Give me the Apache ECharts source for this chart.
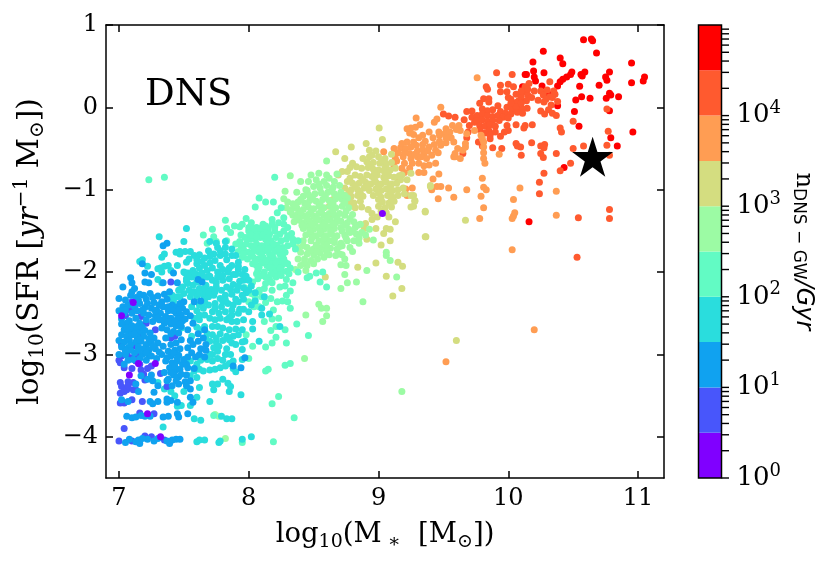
<!DOCTYPE html>
<html>
<head>
<meta charset="utf-8">
<style>html,body{margin:0;padding:0;background:#fff}#chart{width:831px;height:567px}</style>
<script src="https://cdn.jsdelivr.net/npm/echarts@6/dist/echarts.min.js"></script>
</head>
<body>
<div id="chart"></div>
<script>
// Host galaxies of double neutron star mergers, grouped by merger-rate decade bin.
const binColors = ['#8000ff','#4856fb','#10a2f0','#2adddd','#62fbc4','#9cfba4','#d4dd80','#ff9d53','#ff5a2f','#ff0000'];
const binEdges = [1,3.162,10,31.62,100,316.2,1000,3162,10000,31620,100000];
const milkyWay = [[10.65,-0.6]];

const bin0 = [[7.02,-2.53],[7.32,-4.0],[7.22,-3.72],[7.08,-3.25],[7.15,-3.11],[7.28,-3.11],[9.03,-1.29],[7.11,-2.37]];
const bin1 = [[7.40,-2.12],[7.10,-2.36],[7.09,-2.46],[7.17,-2.54],[7.21,-2.62],[7.28,-2.70],[7.43,-2.78],[7.40,-2.80],[7.17,-2.76],[7.11,-2.90],[7.05,-2.94],[7.06,-3.00],[7.01,-3.10],[7.00,-3.07],[7.09,-3.04],[7.14,-3.00],[7.17,-3.19],[7.22,-3.17],[7.25,-3.14],[7.32,-3.23],[7.10,-3.17],[7.11,-3.34],[7.07,-3.33],[7.01,-3.34],[7.02,-3.39],[7.01,-3.47],[7.04,-3.45],[7.06,-3.43],[7.11,-3.43],[7.13,-3.43],[7.20,-3.31],[7.37,-3.39],[7.04,-3.59],[7.01,-3.59],[7.10,-3.55],[7.18,-3.57],[7.16,-3.71],[7.27,-3.72],[7.04,-3.90],[7.00,-4.05],[7.10,-4.05],[7.20,-3.99],[7.25,-4.0],[7.35,-4.04],[7.05,-2.53],[7.02,-2.88],[7.13,-3.08],[7.16,-3.12],[7.19,-3.24],[7.02,-3.02],[7.07,-3.38],[7.04,-3.16]];
const bin2 = [[7.37,-1.65],[7.34,-1.68],[7.18,-1.9],[7.20,-2.01],[7.25,-2.03],[7.09,-2.07],[7.10,-2.13],[7.03,-2.18],[7.20,-2.12],[7.23,-2.13],[7.34,-2.13],[7.42,-2.01],[7.45,-2.13],[7.61,-2.09],[7.64,-2.12],[7.00,-2.32],[7.10,-2.24],[7.19,-2.28],[7.24,-2.26],[7.30,-2.29],
[7.09,-2.28],[7.13,-2.31],[7.16,-2.27],[7.21,-2.33],[7.27,-2.37],[7.33,-2.36],[7.37,-2.33],[7.41,-2.40],[7.45,-2.42],[7.49,-2.44],[7.03,-2.42],[7.07,-2.40],[7.12,-2.42],[7.16,-2.38],[7.20,-2.43],[7.25,-2.44],[7.29,-2.46],[7.34,-2.42],[7.38,-2.47],[7.44,-2.50],[7.48,-2.52],[7.52,-2.48],[7.00,-2.47],[7.04,-2.50],[7.10,-2.50],[7.14,-2.47],[7.19,-2.50],[7.23,-2.52],[7.28,-2.53],[7.32,-2.50],[7.36,-2.54],[7.40,-2.56],[7.45,-2.57],[7.49,-2.59],[7.02,-2.57],[7.08,-2.59],[7.13,-2.56],[7.21,-2.58],[7.26,-2.60],[7.31,-2.58],[7.35,-2.62],[7.40,-2.63],[7.44,-2.65],[7.48,-2.66],[7.33,-2.68],[7.37,-2.70],[7.42,-2.72],[7.53,-2.70],[7.50,-2.36],[7.55,-2.53],
[7.04,-2.70],[7.08,-2.72],[7.12,-2.70],[7.16,-2.72],[7.20,-2.71],[7.24,-2.74],[7.02,-2.76],[7.06,-2.78],[7.10,-2.76],[7.14,-2.79],[7.19,-2.78],[7.23,-2.81],[7.27,-2.80],[7.00,-2.83],[7.04,-2.85],[7.08,-2.83],[7.13,-2.85],[7.17,-2.84],[7.21,-2.88],[7.25,-2.86],[7.30,-2.86],[7.02,-2.91],[7.07,-2.92],[7.15,-2.91],[7.19,-2.93],[7.23,-2.95],[7.28,-2.93],[7.05,-3.0],[7.12,-2.98],[7.18,-3.0],[7.23,-3.02],[7.00,-3.0],[7.11,-3.06],[7.16,-3.05],[7.07,-3.07],[7.21,-3.07],[7.04,-3.12],
[7.36,-2.80],[7.40,-2.88],[7.44,-2.86],[7.48,-2.82],[7.34,-2.90],[7.38,-2.96],[7.43,-2.95],[7.47,-2.93],[7.33,-3.0],[7.40,-3.02],[7.46,-3.01],[7.53,-2.92],[7.55,-2.83],[7.61,-2.84],[7.65,-2.80],[7.67,-2.88],[7.63,-2.93],[7.67,-2.95],[7.56,-2.98],[7.53,-3.03],[7.36,-3.08],[7.41,-3.10],[7.45,-3.08],[7.39,-3.16],[7.43,-3.20],[7.47,-3.18],[7.35,-3.22],[7.42,-3.25],[7.46,-3.27],[7.52,-3.25],[7.44,-3.32],[7.51,-3.33],[7.55,-3.32],[7.58,-3.17],[7.53,-3.16],[7.94,-3.16],[7.88,-3.14],[7.97,-3.04],
[7.26,-3.32],[7.30,-3.38],[7.27,-3.46],[7.17,-3.26],[7.22,-3.30],[7.25,-3.25],[7.52,-3.38],[7.55,-3.42],[7.13,-3.36],[7.15,-3.45],[7.02,-3.55],[7.07,-3.57],[7.24,-3.57],[7.26,-3.60],[7.30,-3.57],[7.37,-3.58],[7.37,-3.54],[7.40,-3.56],[7.45,-3.58],[7.55,-3.52],[7.57,-3.58],[7.53,-3.72],[7.06,-3.75],[7.10,-3.77],[7.13,-3.76],[7.17,-3.74],[7.20,-3.75],[7.24,-3.75],[7.34,-3.76],[7.38,-3.75],[7.45,-3.72],[7.46,-3.76],[7.05,-4.07],[7.08,-4.03],[7.13,-4.06],[7.15,-4.04],[7.18,-4.02],[7.22,-4.03],[7.27,-4.05],[7.30,-4.02],[7.39,-4.08],[7.41,-4.04],[7.44,-4.03],[7.47,-4.03],[7.16,-4.08],[7.37,-4.05],
[7.28,-2.47],[7.16,-2.62],[7.31,-2.40],[7.06,-2.62],[7.46,-2.46],[7.63,-2.35],[7.58,-2.36],[7.57,-2.62],[7.61,-2.75],[7.15,-2.95],[7.09,-2.95],[7.40,-2.75],[7.46,-2.74],[7.43,-3.14],[7.49,-3.12],[7.38,-3.30],[7.52,-3.12],
[7.05,-2.34],[7.12,-2.2],[7.15,-2.34],[7.26,-2.31],[7.35,-2.27],[7.39,-2.24],[7.05,-2.46],[7.18,-2.46],[7.22,-2.38],[7.30,-2.55],[7.38,-2.42],[7.42,-2.47],[7.47,-2.38],[7.51,-2.57],[7.34,-2.58],[7.43,-2.6],[7.47,-2.63],[7.38,-2.6],[7.02,-2.63],[7.1,-2.65],[7.14,-2.66],[7.06,-2.68],[7.18,-2.67],[7.12,-2.75],[7.16,-2.82],[7.09,-2.88],[7.05,-2.96],[7.21,-2.98],[7.26,-2.9],[7.25,-3.02],[7.31,-2.97],[7.29,-3.05],[7.42,-2.98],[7.37,-3.04],[7.45,-3.04],[7.5,-3.06],[7.4,-3.22],[7.48,-3.24],[7.46,-3.36],[7.41,-3.38],[7.37,-3.32],[7.62,-3.0],[7.57,-2.88],[7.59,-3.03],[7.66,-3.03],[7.66,-2.7]];
const bin3 = [[7.31,-1.57],[7.22,-1.93],[7.18,-1.85],[7.52,-1.47],[7.35,-1.78],[7.33,-1.82],[7.44,-1.76],[7.47,-1.78],[7.38,-1.92],[7.40,-1.98],[7.30,-1.96],[7.33,-2.0],[7.45,-1.92],[7.52,-1.88],[7.54,-1.84],[7.58,-1.80],[7.50,-2.0],[7.60,-1.90],
[7.53,-2.01],[7.57,-1.98],[7.62,-1.95],[7.66,-1.92],[7.70,-1.89],[7.74,-1.86],[7.78,-1.92],[7.82,-1.70],[7.69,-1.74],[7.73,-1.78],[7.78,-1.80],[7.83,-1.85],[7.52,-2.08],[7.56,-2.06],[7.60,-2.03],[7.64,-2.01],[7.68,-1.98],[7.72,-1.95],[7.76,-2.0],[7.80,-1.97],[7.84,-2.0],[7.46,-2.22],[7.49,-2.18],[7.53,-2.14],[7.57,-2.16],[7.68,-2.06],[7.72,-2.10],[7.76,-2.06],[7.80,-2.10],[7.85,-2.08],[7.41,-2.28],[7.45,-2.30],[7.50,-2.26],[7.54,-2.22],[7.58,-2.24],[7.62,-2.20],[7.67,-2.16],[7.71,-2.21],[7.75,-2.18],[7.79,-2.22],[7.83,-2.18],[7.88,-2.15],[7.55,-2.30],[7.60,-2.30],[7.65,-2.27],[7.69,-2.30],[7.73,-2.28],[7.78,-2.32],[7.82,-2.28],[7.87,-2.27],[7.91,-2.22],
[7.69,-2.40],[7.74,-2.38],[7.79,-2.42],[7.84,-2.38],[7.88,-2.40],[7.92,-2.36],[7.96,-2.33],[7.98,-2.25],[7.56,-2.42],[7.60,-2.47],[7.65,-2.44],[7.72,-2.48],[7.77,-2.50],[7.82,-2.48],[7.87,-2.52],[7.92,-2.50],[7.96,-2.45],[8.02,-2.40],[8.05,-2.35],[7.58,-2.56],[7.62,-2.58],[7.66,-2.52],[7.70,-2.56],[7.74,-2.58],[7.78,-2.56],[7.83,-2.58],[7.87,-2.60],[7.91,-2.60],[7.96,-2.58],[8.0,-2.48],[7.60,-2.67],[7.63,-2.70],[7.66,-2.66],[7.72,-2.66],[7.76,-2.66],[7.80,-2.68],[7.85,-2.70],[7.90,-2.69],[7.95,-2.70],[8.03,-2.6],[8.03,-2.69],[7.68,-2.75],[7.72,-2.76],[7.78,-2.75],[7.83,-2.78],[7.88,-2.78],[7.92,-2.76],[7.97,-2.84],[7.70,-2.84],[7.75,-2.85],[7.80,-2.83],[7.87,-2.86],[7.73,-2.92],[7.77,-2.90],[7.83,-2.93],[7.90,-2.88],[7.72,-3.0],[7.82,-3.0],[7.86,-3.0],[8.08,-2.84],[7.95,-3.06],[7.95,-2.94],
[7.55,-3.08],[7.60,-3.12],[7.63,-3.07],[7.68,-3.06],[7.72,-3.08],[7.76,-3.05],[7.80,-3.07],[7.85,-3.11],[7.88,-3.08],[7.58,-3.20],[7.62,-3.18],[7.65,-3.20],[7.70,-3.19],[7.74,-3.18],[7.78,-3.16],[7.82,-3.14],[7.88,-3.17],[7.9,-3.21],[7.60,-3.28],[7.55,-3.26],[7.76,-3.36],[7.80,-3.30],[7.84,-3.35],[7.86,-3.39],[7.85,-3.45],[7.72,-3.36],[7.73,-3.43],[7.60,-3.52],[7.62,-3.40],[7.70,-3.57],[7.94,-3.49],[7.48,-3.62],[7.55,-3.62],[7.40,-3.45],[7.43,-3.50],[7.58,-3.78],[7.63,-3.80],[7.79,-3.75],[7.83,-3.78],[7.87,-3.78],[7.60,-4.06],[7.62,-4.04],[7.66,-4.04],[7.77,-4.07],[7.78,-4.05],[7.95,-4.03],[8.02,-4.0],[7.34,-3.88],[7.45,-3.63],
[7.82,-1.63],[7.76,-1.70],[7.87,-1.72],[7.90,-1.80],[7.92,-1.88],[7.87,-1.92],[7.92,-1.97],[7.95,-2.03],[7.90,-2.03],[7.96,-2.10],[7.93,-2.11],[8.02,-2.17],[8.0,-2.22],[8.05,-2.25],[7.45,-2.63],[7.42,-2.35],[7.48,-2.68],[7.56,-2.78],[7.30,-3.34],[7.35,-3.42],[7.50,-3.45],
[7.5,-1.63],[7.51,-1.75],[7.47,-1.75],[7.55,-1.75],[7.62,-1.79],[7.66,-1.83],[7.70,-1.81],[7.6,-1.85],[7.64,-1.87],[7.75,-1.65],[7.7,-1.63],[7.32,-1.95],[7.35,-1.93],[7.16,-1.87],[7.3,-2.09],[7.33,-2.13],[7.38,-2.32],[7.47,-2.3],[7.51,-2.01],[7.55,-2.05],[7.58,-2.01],[7.52,-2.11],[7.47,-2.21],[7.56,-2.25],[7.65,-2.34],[7.7,-2.05],[7.75,-2.13],[7.6,-2.12],[7.64,-2.08],[7.66,-2.2],[7.69,-2.24],[7.62,-2.26],[7.74,-2.24],[7.66,-2.36],[7.62,-2.4],[7.62,-2.52],[7.74,-2.44],[7.8,-2.36],[7.85,-2.55],[7.93,-2.45],[7.87,-2.46],[7.75,-2.8],[7.85,-2.82],[7.67,-2.8],[7.7,-3.0],[7.76,-2.96],[7.95,-2.85],[7.85,-1.95],[7.8,-2.04],[7.88,-2.03],[7.78,-1.74],[7.82,-1.78],[7.87,-1.8],[7.92,-1.93],[7.97,-1.97],[7.98,-2.05],[8.0,-2.1],[7.92,-2.17],[7.96,-2.19],[7.86,-2.21],[7.82,-2.34],[7.9,-2.33],[7.95,-2.28],[8.1,-2.44],[8.1,-2.52],[8.16,-2.51],[8.12,-2.3],[8.24,-2.66]];
const bin4 = [[7.23,-0.88],[7.35,-0.85],[8.20,-0.85],[8.08,-1.10],[8.13,-1.15],[8.19,-1.15],[8.05,-1.21],[7.82,-1.37],[7.89,-1.44],[7.93,-1.45],[7.65,-1.55],[7.72,-1.48],[7.83,-1.47],[7.86,-1.52],[7.98,-1.35],[7.94,-1.55],[7.99,-1.58],[7.75,-1.63],[7.68,-1.65],[7.73,-1.57],[7.83,-1.62],
[8.02,-1.40],[8.06,-1.46],[8.11,-1.42],[8.15,-1.47],[8.22,-1.28],[8.18,-1.36],[8.23,-1.40],[8.25,-1.22],[8.27,-1.50],[8.0,-1.50],[8.04,-1.53],[8.08,-1.52],[8.12,-1.50],[8.16,-1.54],[8.20,-1.50],[8.24,-1.54],[7.97,-1.58],[8.01,-1.60],[8.05,-1.60],[8.09,-1.58],[8.13,-1.60],[8.17,-1.62],[8.21,-1.58],[8.25,-1.62],[8.29,-1.60],[7.93,-1.63],[7.90,-1.66],[7.94,-1.68],[7.98,-1.66],[8.02,-1.68],[8.06,-1.66],[8.10,-1.68],[8.14,-1.66],[8.18,-1.70],[8.22,-1.67],[8.26,-1.70],[8.30,-1.68],[8.34,-1.66],[7.92,-1.75],[7.96,-1.73],[8.0,-1.76],[8.04,-1.74],[8.08,-1.76],[8.12,-1.74],[8.16,-1.78],[8.20,-1.75],[8.24,-1.78],[8.28,-1.76],[8.38,-1.62],[8.36,-1.72],[7.95,-1.82],[7.99,-1.84],[8.03,-1.81],[8.07,-1.84],[8.11,-1.82],[8.15,-1.85],[8.19,-1.83],[8.23,-1.86],[8.27,-1.84],[8.03,-1.90],[8.06,-1.92],[8.10,-1.89],[8.14,-1.92],[8.18,-1.90],[8.22,-1.93],[8.26,-1.91],[8.30,-1.90],[8.07,-1.98],[8.12,-2.0],[8.18,-1.97],[8.21,-2.0],[8.25,-1.98],[8.29,-1.99],[8.38,-2.0],[8.45,-2.07],
[8.13,-2.06],[8.16,-2.09],[8.21,-2.06],[8.25,-2.04],[8.29,-2.09],[8.34,-2.13],[8.24,-2.18],[8.31,-2.02],[8.03,-2.12],[8.07,-2.08],[8.13,-2.14],[8.18,-2.13],[8.18,-2.22],[8.28,-2.17],[8.32,-2.23],[8.08,-2.24],[7.97,-2.19],[8.02,-2.26],[8.08,-2.22],[8.12,-2.20],[8.17,-2.32],[8.29,-2.28],[8.3,-2.36],[8.05,-2.31],[8.10,-2.30],[8.22,-2.36],[8.26,-2.35],[8.00,-2.36],[8.04,-2.42],[8.08,-2.42],[8.13,-2.37],[8.19,-2.46],[8.23,-2.56],[8.18,-2.57],[8.32,-2.44],[8.12,-2.6],[8.21,-2.66],[8.17,-2.71],[8.28,-2.7],[8.21,-2.79],[8.18,-2.86],[8.13,-2.91],[8.29,-2.86],[8.37,-2.63],[8.46,-2.77],[8.03,-2.9],[7.98,-2.76],[8.0,-3.05],[8.28,-3.13],[8.32,-3.11],[8.13,-3.2],[8.15,-3.18],[8.23,-3.51],[8.18,-3.6],[8.35,-3.77],[8.19,-4.06],[7.95,-4.07],[7.73,-3.74],
[7.95,-1.42],[8.0,-1.46],[8.04,-1.47],[8.09,-1.47],[8.13,-1.44],[8.18,-1.42],[8.2,-1.46],[8.27,-1.42],[8.27,-1.34],[8.3,-1.46],[8.33,-1.53],[8.3,-1.56],[8.34,-1.6],[8.02,-1.55],[8.06,-1.57],[8.11,-1.55],[8.15,-1.58],[8.19,-1.66],[8.12,-1.71],[8.04,-1.7],[7.96,-1.78],[8.08,-1.72],[8.15,-1.72],[8.23,-1.72],[8.02,-1.79],[8.1,-1.79],[8.18,-1.8],[8.26,-1.8],[8.05,-1.87],[8.13,-1.87],[8.21,-1.88],[8.28,-1.88],[8.08,-1.94],[8.16,-1.95],[8.24,-1.95],[8.32,-1.95],[8.1,-2.04],[8.17,-2.03],[8.06,-2.02],[8.52,-2.01],[8.57,-2.0],[8.47,-2.05],[8.55,-2.12],[8.6,-2.18]];
const bin5 = [[8.60,-0.65],[8.32,-0.83],[8.40,-0.90],[8.46,-0.90],[8.48,-0.82],[8.54,-0.80],[8.60,-0.82],[8.68,-0.81],[8.28,-1.02],[8.37,-1.03],[8.45,-1.01],[8.27,-1.11],[8.58,-0.90],[8.66,-0.90],[8.62,-0.86],[8.52,-0.88],[7.82,-4.02],[7.74,-3.73],[7.77,-3.75],[9.18,-3.45],
[8.50,-0.96],[8.55,-0.98],[8.60,-0.95],[8.65,-0.97],[8.70,-0.95],[8.42,-1.08],[8.46,-1.06],[8.51,-1.05],[8.56,-1.04],[8.61,-1.03],[8.66,-1.05],[8.71,-1.03],[8.30,-1.15],[8.34,-1.17],[8.38,-1.15],[8.43,-1.16],[8.47,-1.13],[8.52,-1.14],[8.57,-1.12],[8.62,-1.13],[8.67,-1.11],[8.72,-1.12],[8.76,-1.10],[8.29,-1.22],[8.33,-1.24],[8.37,-1.22],[8.42,-1.24],[8.46,-1.21],[8.50,-1.23],[8.54,-1.20],[8.58,-1.22],[8.63,-1.20],[8.67,-1.22],[8.72,-1.20],[8.77,-1.22],[8.34,-1.31],[8.38,-1.29],[8.42,-1.32],[8.46,-1.30],[8.50,-1.32],[8.54,-1.29],[8.58,-1.31],[8.62,-1.29],[8.66,-1.31],[8.70,-1.29],[8.74,-1.31],[8.80,-1.30],[8.35,-1.39],[8.39,-1.37],[8.43,-1.40],[8.47,-1.38],[8.51,-1.40],[8.55,-1.37],[8.59,-1.39],[8.63,-1.37],[8.67,-1.40],[8.71,-1.38],[8.76,-1.40],[8.81,-1.39],[8.42,-1.47],[8.46,-1.45],[8.50,-1.48],[8.54,-1.46],[8.58,-1.48],[8.62,-1.45],[8.66,-1.47],[8.71,-1.46],[8.77,-1.48],[8.82,-1.46],[8.86,-1.42],[8.44,-1.55],[8.48,-1.53],[8.52,-1.56],[8.56,-1.54],[8.60,-1.56],[8.64,-1.54],[8.68,-1.56],[8.74,-1.55],[8.78,-1.52],[8.83,-1.54],[8.87,-1.52],[8.93,-1.48],[8.48,-1.62],[8.54,-1.62],[8.58,-1.64],[8.62,-1.62],[8.66,-1.64],[8.71,-1.65],[8.76,-1.62],[8.81,-1.62],[8.42,-1.62],[8.38,-1.70],[8.45,-1.70],[8.50,-1.72],[8.55,-1.70],[8.59,-1.72],[8.63,-1.71],[8.68,-1.72],[8.72,-1.68],[8.78,-1.70],[8.40,-1.76],[8.45,-1.78],[8.50,-1.79],[8.55,-1.77],[8.62,-1.79],[8.70,-1.78],[8.80,-1.75],[8.38,-1.84],[8.43,-1.84],[8.48,-1.86],[8.53,-1.84],[8.67,-1.80],[8.72,-1.79],[8.74,-1.84],[8.40,-1.92],[8.45,-1.92],[8.50,-1.90],[8.71,-1.91],[8.36,-1.97],[8.44,-1.98],[8.75,-1.92],[9.06,-1.76],[9.06,-1.80],[9.09,-1.86],[8.91,-1.98],[8.74,-2.03],[8.76,-2.13],[8.83,-2.12],[8.71,-2.2],[8.88,-2.36],[9.14,-2.06],[8.54,-2.39],[8.56,-2.44],[8.6,-2.44],[8.6,-2.53],[8.57,-2.6],[8.44,-2.52],[8.43,-3.05],[8.96,-1.61],[8.85,-1.65],[8.90,-1.55],
[8.44,-1.0],[8.54,-0.93],[8.64,-1.0],[8.4,-1.12],[8.49,-1.09],[8.59,-1.08],[8.69,-1.08],[8.74,-1.07],[8.36,-1.19],[8.45,-1.18],[8.55,-1.17],[8.65,-1.16],[8.74,-1.16],[8.32,-1.27],[8.4,-1.27],[8.48,-1.26],[8.56,-1.26],[8.65,-1.25],[8.75,-1.26],[8.37,-1.34],[8.45,-1.35],[8.52,-1.35],[8.6,-1.34],[8.68,-1.35],[8.78,-1.35],[8.41,-1.43],[8.49,-1.43],[8.57,-1.43],[8.65,-1.42],[8.74,-1.43],[8.84,-1.43],[8.47,-1.5],[8.55,-1.51],[8.63,-1.5],[8.72,-1.5],[8.8,-1.5],[8.49,-1.58],[8.58,-1.59],[8.66,-1.6],[8.75,-1.59],[8.85,-1.59],[8.52,-1.67],[8.6,-1.67],[8.7,-1.69],[8.52,-1.75],[8.6,-1.75],[8.43,-1.88],[8.47,-1.74],[8.58,-1.82],[8.42,-1.68]];
const bin6 = [[9.005,-0.25],[9.03,-0.39],[8.905,-0.44],[8.79,-0.48],[8.67,-0.54],[8.98,-0.53],[8.93,-0.52],[9.10,-0.57],[8.74,-0.62],[8.80,-0.68],[8.78,-0.73],[8.72,-0.78],[8.76,-0.78],[8.69,-0.82],[9.36,-1.26],[9.365,-1.57],[9.13,-1.39],[9.09,-1.62],[9.02,-1.67],[8.98,-1.89],[9.15,-1.88],[9.185,-1.93],[9.06,-2.05],[9.18,-2.2],[9.11,-2.29],[8.84,-1.94],[8.91,-1.60],[8.59,-2.06],[9.04,-1.53],[8.98,-1.47],[9.06,-1.47],[9.09,-1.48],[8.89,-1.47],[8.90,-1.41],[8.95,-1.36],[8.99,-1.33],[9.08,-1.33],[9.27,-1.20],[9.28,-1.13],[9.27,-1.07],[9.40,-0.95],[9.6,-2.83],[9.25,-0.80],[9.22,-0.88],[9.25,-1.07],[9.28,-1.14],[9.25,-1.21],[9.20,-1.05],[9.36,-1.27],[9.67,-1.37],[9.36,-1.57],[9.40,-0.96],[9.18,-0.82],[8.65,-1.12],[8.62,-1.20],[8.64,-1.30],
[8.95,-0.58],[9.0,-0.60],[9.05,-0.62],[8.88,-0.62],[8.91,-0.66],[8.96,-0.67],[9.01,-0.68],[9.06,-0.69],[9.10,-0.67],[8.83,-0.72],[8.87,-0.74],[8.92,-0.73],[8.96,-0.75],[9.0,-0.76],[9.04,-0.77],[9.09,-0.76],[9.13,-0.74],[8.82,-0.82],[8.86,-0.84],[8.91,-0.82],[8.95,-0.84],[8.99,-0.82],[9.04,-0.85],[9.08,-0.83],[9.12,-0.85],[9.16,-0.83],[8.76,-0.90],[8.80,-0.92],[8.85,-0.92],[8.90,-0.91],[8.94,-0.93],[8.98,-0.91],[9.02,-0.93],[9.06,-0.91],[9.10,-0.93],[9.14,-0.92],[8.74,-0.98],[8.79,-1.0],[8.84,-1.0],[8.89,-0.98],[8.93,-1.01],[8.98,-0.99],[9.02,-1.01],[9.06,-0.99],[9.11,-1.01],[9.15,-1.0],[9.19,-0.98],[8.74,-1.07],[8.79,-1.08],[8.84,-1.07],[8.88,-1.08],[8.96,-1.07],[9.02,-1.09],[9.07,-1.07],[9.11,-1.09],[9.15,-1.07],[8.76,-1.15],[8.81,-1.16],[8.86,-1.14],[9.03,-1.15],[9.08,-1.16],[9.12,-1.14],[8.82,-1.22],[8.87,-1.21],[9.0,-1.20],[9.05,-1.22],[9.10,-1.21],[9.02,-1.26],[9.06,-1.28],[8.92,-1.24],[8.95,-1.29],
[8.93,-0.6],[9.03,-0.65],[8.94,-0.7],[9.05,-0.73],[8.97,-0.79],[9.07,-0.8],[8.78,-0.86],[8.88,-0.88],[8.97,-0.88],[9.05,-0.88],[9.17,-0.88],[8.82,-0.96],[8.92,-0.96],[9.0,-0.96],[9.09,-0.96],[8.77,-1.04],[8.86,-1.04],[9.0,-1.04],[9.09,-1.04],[8.78,-1.12],[9.0,-1.12],[9.1,-1.12],[8.8,-1.19]];
const bin7 = [[9.76,0.36],[9.48,0.0],[9.29,-0.13],[9.45,-0.14],[9.43,-0.18],[9.04,-0.54],[9.32,-0.21],[9.285,-0.24],[9.25,-0.25],[9.22,-0.26],[9.24,-0.31],[9.27,-0.42],[9.34,-0.34],[9.39,-0.3],[9.465,-0.3],[9.52,-0.26],[9.57,-0.22],[9.62,-0.22],[9.63,-0.28],[9.68,-0.32],[9.74,-0.28],[9.54,-0.36],[9.58,-0.42],[9.61,-0.5],[9.63,-0.62],[9.58,-0.6],[9.48,-0.46],[9.44,-0.52],[9.39,-0.48],[9.35,-0.56],[9.3,-0.6],[9.25,-0.62],[9.19,-0.6],[9.17,-0.49],[9.21,-0.5],[9.44,-0.68],[9.39,-0.7],[9.35,-0.79],[9.31,-0.79],[9.12,-0.72],[9.2,-0.79],[9.16,-0.87],[9.465,-0.81],[9.42,-0.87],[9.48,-0.96],[9.54,-0.98],[9.68,-1.0],[9.46,-1.11],[9.58,-1.09],[9.26,-0.98],[9.21,-0.99],[9.22,-1.07],[9.8,-0.86],[9.81,-0.97],[9.79,-1.08],[9.81,-1.22],[10.09,-0.98],[10.04,-1.12],[9.81,-0.48],[9.81,-0.55],[9.81,-0.62],[9.82,-0.68],[9.93,-0.57],
[9.27,-0.33],[9.31,-0.37],[9.36,-0.41],[9.42,-0.37],[9.47,-0.34],[9.51,-0.32],[9.55,-0.3],[9.6,-0.27],[9.29,-0.46],[9.34,-0.45],[9.22,-0.42],[9.18,-0.44],[9.25,-0.48],[9.3,-0.53],[9.34,-0.51],[9.38,-0.53],[9.43,-0.45],[9.47,-0.41],[9.52,-0.43],[9.56,-0.37],[9.2,-0.55],[9.24,-0.56],[9.28,-0.57],[9.33,-0.6],[9.37,-0.62],[9.15,-0.55],[9.12,-0.5],[9.14,-0.65],[9.2,-0.68],[9.26,-0.68],[9.31,-0.68],[9.24,-0.74],[9.35,-0.71],[9.18,-0.74],[9.13,-0.62],[9.41,-0.58],[9.46,-0.55],[9.52,-0.37],
[9.78,-1.35],[10.05,-1.28],[10.04,-1.32],[10.03,-1.35],[10.37,-1.31],[10.37,-1.02],[10.03,-1.73],[9.67,-0.48],[9.59,-0.6],[9.79,-0.34],[9.80,-0.38],[9.65,-0.52],[9.67,-0.44],[9.52,-3.09],[10.2,-2.7],[9.83,-1.0],[9.45,-0.96],[9.41,-1.0],[9.59,-0.56],[9.81,-0.42]];
const bin8 = [[9.91,0.42],[10.03,0.40],[10.32,0.31],[9.94,0.27],[10.0,0.28],[10.04,0.25],[9.83,0.25],[9.84,0.22],[9.94,0.19],[9.99,0.19],[10.06,0.16],[10.16,0.29],[10.13,0.25],[10.12,0.19],[10.15,0.15],[10.10,0.13],[10.08,0.08],[10.06,0.06],[10.02,0.1],[10.0,0.12],[9.81,0.105],[9.85,0.105],[9.78,0.05],[9.85,0.065],[9.92,0.02],[10.23,0.085],[10.275,0.065],[10.35,0.2],[10.36,0.16],[10.34,0.12],[10.38,0.07],[10.07,0.0],[10.145,-0.01],[10.11,-0.02],[9.99,0.0],[10.03,-0.02],[10.25,-0.045],[10.31,-0.03],[10.28,-0.08],[10.34,-0.07],[10.37,-0.1],[9.68,-0.05],[9.72,-0.045],[9.5,-0.08],[9.54,-0.105],[9.59,-0.12],[9.66,-0.15],[9.72,-0.12],[9.74,-0.18],[10.5,-0.17],[10.4,-0.25],[10.41,-0.3],[10.185,-0.21],[10.13,-0.22],[10.12,-0.25],[10.06,-0.21],[9.99,-0.22],[10.0,-0.28],[9.97,-0.3],[9.94,-0.35],[9.86,-0.38],[9.68,-0.37],[9.77,-0.42],[9.8,-0.47],[9.88,-0.49],[9.95,-0.5],[10.06,-0.44],[10.07,-0.47],[10.095,-0.48],[10.18,-0.43],[10.25,-0.47],[10.28,-0.45],[10.275,-0.49],[10.25,-0.56],[10.27,-0.61],[10.1,-0.58],[10.37,-0.56],[10.5,-0.5],[10.58,-0.47],[10.76,-0.46],[10.77,-0.29],[10.78,-0.58],[10.48,-0.68],[10.4,-0.77],[10.275,-0.8],[10.24,-0.91],[10.24,-1.05],[10.78,-1.24],[10.78,-1.35],[10.54,-1.34],[10.53,-1.82],[9.65,-0.56],[10.76,-0.02],
[9.8,-0.02],[9.84,-0.04],[9.88,-0.03],[9.94,-0.05],[9.98,-0.07],[10.02,-0.08],[10.07,-0.06],[10.11,-0.07],[9.76,-0.1],[9.8,-0.08],[9.84,-0.1],[9.88,-0.11],[9.92,-0.1],[9.96,-0.12],[10.0,-0.13],[9.76,-0.16],[9.8,-0.15],[9.84,-0.17],[9.88,-0.16],[9.93,-0.16],[9.78,-0.22],[9.82,-0.23],[9.86,-0.21],[9.9,-0.23],[9.78,-0.27],[9.85,-0.28],[9.9,-0.3],[9.82,-0.31],[9.86,-0.34],[9.69,-0.3],[9.7,-0.22],[10.06,0.01],[10.1,0.05],[10.14,0.08],[10.18,0.12],[10.2,0.2],[10.25,0.2],[10.27,0.15],[10.3,0.21],[10.32,0.13],[10.29,0.1],[10.33,0.03],[10.15,0.22],[10.1,0.2],[10.02,0.05]];
const bin9 = [[10.58,0.82],[10.64,0.83],[10.65,0.81],[10.68,0.66],[10.27,0.68],[10.40,0.60],[10.42,0.53],[10.19,0.55],[10.195,0.44],[10.275,0.42],[10.13,0.40],[10.14,0.40],[10.49,0.43],[10.48,0.40],[10.45,0.37],[10.42,0.34],[10.40,0.31],[10.38,0.26],[10.56,0.40],[10.59,0.43],[10.57,0.38],[10.55,0.255],[10.78,0.43],[10.75,0.37],[10.76,0.33],[10.70,0.27],[10.95,0.54],[11.05,0.37],[11.04,0.32],[10.95,0.30],[10.2,0.37],[10.21,0.32],[10.26,0.26],[10.11,0.25],[10.30,0.17],[10.31,0.16],[10.565,0.13],[10.63,0.11],[10.52,0.09],[10.755,0.11],[10.78,0.17],[10.79,0.15],[10.85,0.13],[10.38,0.02],[10.51,-0.05],[10.78,-0.04],[10.545,-0.23],[10.96,-0.30],[10.79,-0.37],[10.84,-0.47],[10.43,-0.73],[10.16,-1.39],[10.095,0.08]];

const colorbarTicks = [1,2,3,4,5,6,7,8,9,10,20,30,40,50,60,70,80,90,100,200,300,400,500,600,700,800,900,1000,2000,3000,4000,5000,6000,7000,8000,9000,10000,20000,30000,40000,50000,60000,70000,80000,90000];
const pointBins = [bin0,bin1,bin2,bin3,bin4,bin5,bin6,bin7,bin8,bin9];
const drawOrder = [9,8,7,6,5,4,3,1,2,0];

const serif = '"DejaVu Serif"';
const axisStyle = {onZero:false,lineStyle:{color:'#000',width:1.5}};
const tickStyle = {show:true,inside:true,length:7,lineStyle:{color:'#000',width:1.5}};
const starPath = 'path://M50 0L61.2 34.5L97.6 34.5L68.2 55.9L79.4 90.5L50 69.1L20.6 90.5L31.8 55.9L2.4 34.5L38.8 34.5Z';

const pointSeries = drawOrder.map(i => ({
  type:'scatter', data:pointBins[i], symbol:'circle', symbolSize:7,
  itemStyle:{color:binColors[i],opacity:1}, silent:true, animation:false, progressive:0
}));

const labelRich = {
  t:{fontFamily:serif,fontSize:27.5,color:'#000',lineHeight:34},
  sub:{fontFamily:serif,fontSize:19,color:'#000',verticalAlign:'bottom',lineHeight:26}
};
const yLabelRich = {
  t:{fontFamily:serif,fontSize:29.5,color:'#000',lineHeight:36},
  i:{fontFamily:serif,fontSize:29.5,fontStyle:'italic',color:'#000',lineHeight:36},
  sub:{fontFamily:serif,fontSize:20,color:'#000',verticalAlign:'bottom',lineHeight:28},
  sup:{fontFamily:serif,fontSize:20,color:'#000',verticalAlign:'top',lineHeight:28}
};

const option = {
  backgroundColor:'#fff',
  animation:false,
  grid:[
    {left:106,top:25,width:558,height:453},
    {left:698.5,top:25,width:23,height:453}
  ],
  xAxis:[
    {gridIndex:0,type:'value',min:6.9,max:11.2,interval:1,position:'bottom',splitLine:{show:false},
     axisLine:axisStyle,axisTick:{...tickStyle,customValues:[7,8,9,10,11]},
     axisLabel:{fontFamily:serif,fontSize:24,color:'#000',margin:9,customValues:[7,8,9,10,11]},
     name:'{t|log}{sub|10}{t|(M}{sub| ∗}{t|  [M}{sub|⊙}{t|])}',nameLocation:'middle',nameGap:40,nameTextStyle:{rich:labelRich}},
    {gridIndex:0,type:'value',min:6.9,max:11.2,position:'top',splitLine:{show:false},
     axisLine:axisStyle,axisTick:{...tickStyle,customValues:[7,8,9,10,11]},axisLabel:{show:false}},
    {gridIndex:1,type:'value',min:0,max:1,show:false}
  ],
  yAxis:[
    {gridIndex:0,type:'value',min:-4.5,max:1,position:'left',splitLine:{show:false},
     axisLine:axisStyle,axisTick:{...tickStyle,customValues:[-4,-3,-2,-1,0,1]},
     axisLabel:{fontFamily:serif,fontSize:24,color:'#000',margin:8,customValues:[-4,-3,-2,-1,0,1],
       formatter:v=>String(v).replace('-','\u2212')},
     name:'{t|log}{sub|10}{t|(SFR [}{i|yr}{sup|−1}{t| M}{sub|⊙}{t|])}',nameLocation:'middle',nameGap:58,nameRotate:90,nameTextStyle:{rich:yLabelRich}},
    {gridIndex:0,type:'value',min:-4.5,max:1,position:'right',splitLine:{show:false},
     axisLine:axisStyle,axisTick:{...tickStyle,customValues:[-4,-3,-2,-1,0,1]},axisLabel:{show:false}},
    {gridIndex:1,type:'log',logBase:10,min:1,max:100000,position:'right',splitLine:{show:false},
     axisLine:{show:false},axisTick:{show:false},minorTick:{show:false},
     axisLabel:{margin:15,fontFamily:serif,color:'#000',
       formatter:v=>{const e=Math.round(Math.log10(v));return e>=5?'':`{b|10}{e|${e}}`;},
       rich:{b:{fontFamily:serif,fontSize:26,color:'#000',lineHeight:32},
             e:{fontFamily:serif,fontSize:18,color:'#000',verticalAlign:'top',lineHeight:26}}},
     name:'{n|n}{s|DNS − GW}{g|/Gyr}',nameLocation:'middle',nameGap:68,nameRotate:-90,
     nameTextStyle:{rich:{
       n:{fontFamily:serif,fontSize:24,color:'#000',lineHeight:28},
       s:{fontFamily:'"DejaVu Sans"',fontSize:17,color:'#000',verticalAlign:'bottom',lineHeight:22},
       g:{fontFamily:'"DejaVu Sans"',fontStyle:'italic',fontSize:24,color:'#000',lineHeight:28}
     }}}
  ],
  series:[
    ...pointSeries,
    {type:'scatter',data:milkyWay,symbol:starPath,symbolSize:[41,40],symbolKeepAspect:false,
     itemStyle:{color:'#000',opacity:1},silent:true,z:5,xAxisIndex:0,yAxisIndex:0},
    {type:'custom',xAxisIndex:2,yAxisIndex:2,silent:true,clip:false,z:3,
     data:binColors.map((c,i)=>[i,binEdges[i],binEdges[i+1]]),
     encode:{y:[1,2]},
     renderItem:(params,api)=>{
       const a=api.coord([0,api.value(1)]),b=api.coord([1,api.value(2)]);
       return {type:'rect',shape:{x:a[0],y:b[1],width:b[0]-a[0],height:a[1]-b[1]},
               style:{fill:binColors[api.value(0)]}};
     }},
    {type:'custom',xAxisIndex:2,yAxisIndex:2,silent:true,clip:false,z:4,
     data:[[1,100000]],encode:{y:[0,1]},
     renderItem:(params,api)=>{
       const a=api.coord([0,api.value(0)]),b=api.coord([1,api.value(1)]);
       return {type:'rect',shape:{x:a[0],y:b[1],width:b[0]-a[0],height:a[1]-b[1]},
               style:{fill:'none',stroke:'#000',lineWidth:1.5}};
     }},
    {type:'custom',xAxisIndex:2,yAxisIndex:2,silent:true,clip:false,z:4,
     data:colorbarTicks.map(v=>[v]),encode:{y:0},
     renderItem:(params,api)=>{
       const p=api.coord([1,api.value(0)]);
       return {type:'line',shape:{x1:p[0],y1:p[1],x2:p[0]+7.5,y2:p[1]},
               style:{stroke:'#000',lineWidth:1.4}};
     }}
  ],
  graphic:[{type:'text',left:145,top:77,style:{text:'DNS',font:'37px "DejaVu Serif"',fill:'#000'},z:10}]
};

const chart = echarts.init(document.getElementById('chart'),null,{renderer:'canvas',width:831,height:567});
chart.setOption(option);
</script>
</body>
</html>
